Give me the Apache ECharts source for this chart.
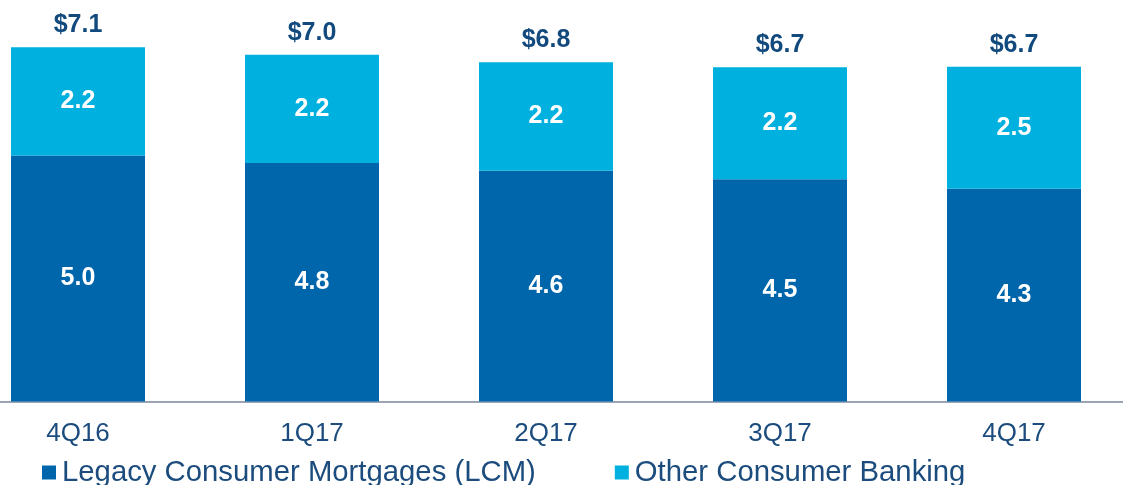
<!DOCTYPE html>
<html>
<head>
<meta charset="utf-8">
<script src="https://cdn.jsdelivr.net/npm/echarts@6/dist/echarts.min.js"></script>
<style>
  html, body { margin: 0; padding: 0; background: #fff; }
  #chart { width: 1123px; height: 485px; }
</style>
</head>
<body>
<div id="chart"></div>
<script>
// quarters on the x axis
var quarters = ['4Q16', '1Q17', '2Q17', '3Q17', '4Q17'];
// bar heights ($B)
var lcm = [4.94, 4.79, 4.63, 4.46, 4.27];
var other = [2.17, 2.17, 2.18, 2.25, 2.45];
// printed labels as they appear on the slide
var lcmLabels = ['5.0', '4.8', '4.6', '4.5', '4.3'];
var otherLabels = ['2.2', '2.2', '2.2', '2.2', '2.5'];
var totalLabels = ['$7.1', '$7.0', '$6.8', '$6.7', '$6.7'];

var totals = lcm.map(function (v, i) { return +(v + other[i]).toFixed(2); });

var FONT = '"Liberation Sans", Arial, sans-serif';
var NAVY = '#1b4c7d';

var chart = echarts.init(document.getElementById('chart'));

chart.setOption({
  animation: false,
  textStyle: { fontFamily: FONT },
  grid: { left: -39, right: -8, top: 3, bottom: 83.5, containLabel: false, outerBoundsMode: 'none' },
  legend: {
    data: ['Legacy Consumer Mortgages (LCM)', 'Other Consumer Banking'],
    left: 37,
    top: 453,
    icon: 'rect',
    itemWidth: 14,
    itemHeight: 14,
    itemGap: 79,
    textStyle: { fontFamily: FONT, fontSize: 29.3, color: NAVY, padding: [0, 0, 0, 1] }
  },
  xAxis: {
    type: 'category',
    data: quarters,
    axisTick: { show: false },
    axisLine: { lineStyle: { color: '#9aa4b5', width: 2 } },
    axisLabel: { fontFamily: FONT, fontSize: 26, color: NAVY, margin: 19 }
  },
  yAxis: {
    type: 'value',
    min: 0,
    max: 8,
    show: false,
    splitLine: { show: false }
  },
  series: [
    {
      name: 'Legacy Consumer Mortgages (LCM)',
      type: 'bar',
      stack: 'all',
      barWidth: 134,
      data: lcm,
      itemStyle: { color: '#0066ac' },
      label: {
        show: true,
        position: 'inside',
        color: '#fff',
        fontWeight: 'bold',
        fontSize: 25,
        fontFamily: FONT,
        formatter: function (p) { return lcmLabels[p.dataIndex]; }
      }
    },
    {
      name: 'Other Consumer Banking',
      type: 'bar',
      stack: 'all',
      barWidth: 134,
      data: other,
      itemStyle: { color: '#00b0de' },
      label: {
        show: true,
        position: 'inside',
        color: '#fff',
        fontWeight: 'bold',
        fontSize: 25,
        fontFamily: FONT,
        formatter: function (p) { return otherLabels[p.dataIndex]; }
      }
    },
    {
      name: 'total',
      type: 'scatter',
      data: totals,
      symbolSize: 1,
      itemStyle: { color: 'rgba(0,0,0,0)', opacity: 1 },
      silent: true,
      label: {
        show: true,
        position: 'top',
        distance: 9,
        color: '#134a7e',
        fontWeight: 'bold',
        fontSize: 25,
        fontFamily: FONT,
        formatter: function (p) { return totalLabels[p.dataIndex]; }
      }
    }
  ]
});
</script>
</body>
</html>
